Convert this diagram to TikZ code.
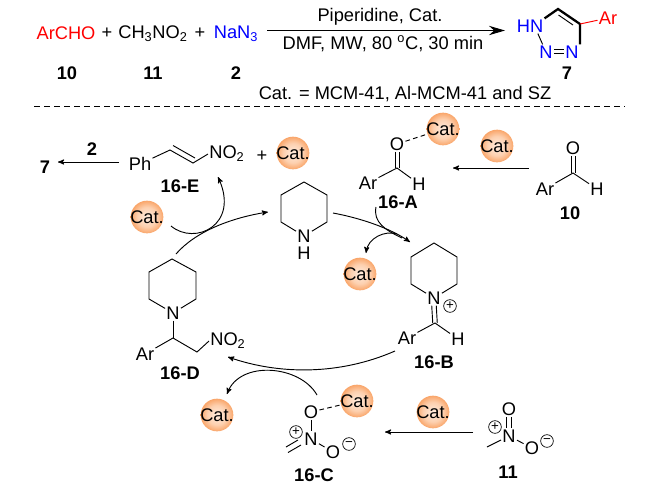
\documentclass[tikz,border=0pt]{standalone}
\usepackage{fontspec}
\setmainfont{Liberation Sans}
\usetikzlibrary{arrows,arrows.meta,shapes}
\newcommand{\catname}{\makebox[0pt]{Cat.}}
\definecolor{catcore}{RGB}{255,236,222}
\definecolor{catsoft}{RGB}{253,208,175}
\definecolor{catmid}{RGB}{249,162,100}
\definecolor{catedge}{RGB}{241,120,45}
\pgfdeclareradialshading{catshade}{\pgfpoint{0bp}{0bp}}{%
    color(0bp)=(catcore); color(15bp)=(catsoft); color(26bp)=(catmid);
    color(35bp)=(catedge); color(50bp)=(catedge)}
\begin{document}
\begin{tikzpicture}[
    x=0.75pt, y=-0.75pt,
    % Define text styles
    every node/.style={font=\fontsize{13.7}{16}\selectfont, inner sep=0.8pt},
    redtext/.style={text=red},
    bluetext/.style={text=blue},
    compound/.style={font=\fontsize{13.7}{16}\selectfont\bfseries},
    catball/.style={
        circle,
        shading=catshade,
        minimum size=24.5pt,
        inner sep=0pt
    },
    charge/.style={
        circle,
        draw,
        line width=0.5pt,
        minimum size=9.5pt,
        inner sep=0pt,
        font=\fontsize{10}{10}\selectfont
    },
    bond/.style={line width=0.7pt},
    boldbond/.style={line width=1.7pt},
    catbond/.style={line width=0.7pt, dashed, dash pattern=on 3.5pt off 2.5pt},
    line/.style={-stealth', line width=0.7pt},
    mainline/.style={-{Stealth[length=12pt,width=7pt]}, line width=0.7pt}
]
\useasboundingbox (0,0) rectangle (650,487);

% Overall reaction
\node[redtext] (archo) at (66,33) {ArCHO};
\node (plusa) at (107,33) {+};
\node (nitro) at (153,34) {CH\textsubscript{3}NO\textsubscript{2}};
\node (plusb) at (200,33) {+};
\node[bluetext] (azide) at (236,34) {NaN\textsubscript{3}};
\node[compound] (lab10) at (67,73) {10};
\node[compound] (lab11) at (153,73) {11};
\node[compound] (lab2) at (236,73) {2};
\coordinate (mains) at (267,30.5);
\coordinate (maine) at (505,30.5);
\draw[mainline] (mains) -- (maine);
\node (reagent) at (380,17) {Piperidine, Cat.};
\node (cond) at (383,44) {DMF, MW, 80 \textsuperscript{o}C, 30 min};
\node (catlist) at (405,94) {Cat. = MCM-41, Al-MCM-41 and SZ};
\coordinate (sepl) at (34,106);
\coordinate (sepr) at (625,106);
\draw[line width=0.6pt, dash pattern=on 4.5pt off 3pt] (sepl) -- (sepr);

% Triazole 7
\node[bluetext] (thn) at (530,26) {HN};
\node[bluetext] (tna) at (546,52) {N};
\node[bluetext] (tnb) at (572,52) {N};
\node[redtext] (tar) at (608,18) {Ar};
\coordinate (ttop) at (558,9);
\coordinate (tright) at (580,24);
\coordinate (tinnera) at (558.5,15);
\coordinate (tinnerb) at (573,25);
\node[compound] (lab7) at (567,73) {7};
\draw[boldbond] (thn.north east) -- (ttop) -- (tright) -- (tnb.north east);
\draw[bond] (tinnera) -- (tinnerb);
\draw[bond] ([xshift=-5pt]thn.south east) -- (tna);
\draw[bond] ([yshift=1.8pt]tna.east) -- ([yshift=1.8pt]tnb.west);
\draw[bond] ([yshift=-1.2pt]tna.east) -- ([yshift=-1.2pt]tnb.west);
\draw[bond, red] (tright) -- (tar);

% Product side 16-E
\node[compound] (seven) at (45,167) {7};
\node[compound] (lab2b) at (92,149) {2};
\coordinate (toseven) at (58,162);
\coordinate (fromph) at (119,162);
\draw[line] (fromph) -- (toseven);
\node (ph) at (140,164) {Ph};
\coordinate (evl) at (170,150);
\coordinate (evr) at (193,163);
\coordinate (evla) at (173,145.5);
\coordinate (evra) at (195,158);
\node[anchor=west] (eno) at (208,154) {NO\textsubscript{2}};
\draw[bond] (ph) -- (evl) -- (evr) -- (eno.west);
\draw[bond] (evla) -- (evra);
\node (plusc) at (262,156) {+};
\node[catball] (cate) at (293,153) {\catname};
\node[compound] (labe) at (180,186) {16-E};

% Intermediate 16-A
\node (ao) at (397,144) {O};
\coordinate (ac) at (397,168);
\node (aar) at (368,183) {Ar};
\node (ah) at (419,184) {H};
\node[compound] (laba) at (398,202) {16-A};
\draw[bond] (aar) -- (ac) -- (ah);
\draw[bond] ([xshift=-1.5pt]ao.south) -- ([xshift=-1.5pt]ac);
\draw[bond] ([xshift=1.5pt]ao.south) -- ([xshift=1.5pt]ac);
\node[catball] (cata) at (443,129) {\catname};
\draw[catbond] (ao) -- (cata);

% Aldehyde 10
\node (ald) at (573,148) {O};
\coordinate (alc) at (573,173);
\node (alar) at (545,189) {Ar};
\node (alh) at (597,189) {H};
\node[compound] (lab10b) at (570,213) {10};
\draw[bond] (alar) -- (alc) -- (alh);
\draw[bond] ([xshift=-1.5pt]ald.south) -- ([xshift=-1.5pt]alc);
\draw[bond] ([xshift=1.5pt]ald.south) -- ([xshift=1.5pt]alc);
\node[catball] (catb) at (497,146) {\catname};
\coordinate (froma) at (529,168);
\coordinate (toa) at (453,168);
\draw[line] (froma) -- (toa);

% Piperidine
\node (pn) at (304,236) {N};
\node (ph2) at (304,253) {H};
\coordinate (ptop) at (304,182);
\coordinate (pul) at (281,195);
\coordinate (pll) at (281,222);
\coordinate (pur) at (327,195);
\coordinate (plr) at (327,222);
\draw[bond] (pn) -- (pll) -- (pul) -- (ptop) -- (pur) -- (plr) -- (pn);

% Iminium 16-B
\node (bn) at (434,298) {N};
\coordinate (btop) at (434,243);
\coordinate (bul) at (411,257);
\coordinate (bll) at (411,284);
\coordinate (bur) at (457,257);
\coordinate (blr) at (457,284);
\coordinate (bc) at (435,323);
\node[charge] (bplus) at (450,306) {+};
\node (bar) at (407,338) {Ar};
\node (bh) at (458,339) {H};
\node[compound] (labb) at (434,362) {16-B};
\draw[bond] (bn) -- (bll) -- (bul) -- (btop) -- (bur) -- (blr) -- (bn);
\draw[bond] ([xshift=-1.7pt]bn.south) -- ([xshift=-1.7pt]bc);
\draw[bond] ([xshift=1.7pt]bn.south) -- ([xshift=1.7pt]bc);
\draw[bond] (bar) -- (bc) -- (bh);
\node[catball] (catc) at (360,274) {\catname};

% Adduct 16-D
\node (dn) at (173,313) {N};
\coordinate (dtop) at (172,259);
\coordinate (dul) at (149,272);
\coordinate (dll) at (149,299);
\coordinate (dur) at (196,272);
\coordinate (dlr) at (196,299);
\coordinate (dch) at (173,338);
\coordinate (dcht) at (197,352);
\node (dar) at (145,354) {Ar};
\node[anchor=west] (dno) at (209,341) {NO\textsubscript{2}};
\node[compound] (labd) at (180,373) {16-D};
\draw[bond] (dn) -- (dll) -- (dul) -- (dtop) -- (dur) -- (dlr) -- (dn);
\draw[bond] (dn) -- (dch);
\draw[bond] (dar) -- (dch) -- (dcht) -- (dno.west);
\node[catball] (catd) at (147,217) {\catname};
\node[catball] (catf) at (217,415) {\catname};

% Nitronate 16-C
\node (co) at (311,412) {O};
\node (cn) at (311,439) {N};
\node (com) at (333,452) {O};
\node[charge] (cplus) at (296,432) {+};
\node[charge] (cminus) at (349,444) {\textminus};
\coordinate (cma) at (301,445);
\coordinate (cmb) at (288,452.5);
\coordinate (cmc) at (298,440);
\coordinate (cmd) at (286,447);
\node[compound] (labc) at (314,475) {16-C};
\draw[bond] (co) -- (cn);
\draw[bond] (cn) -- (com);
\draw[bond] (cma) -- (cmb);
\draw[bond] (cmc) -- (cmd);
\node[catball] (catg) at (357,401) {\catname};
\draw[catbond] (co) -- (catg);

% Nitromethane 11
\node (no) at (509,409) {O};
\node (nn) at (509,436) {N};
\node (nom) at (532,448) {O};
\node[charge] (nplus) at (495,427) {+};
\node[charge] (nminus) at (547,441) {\textminus};
\coordinate (nme) at (487,447);
\node[compound] (lab11b) at (508,472) {11};
\draw[bond] ([xshift=-1.7pt]no.south) -- ([xshift=-1.7pt]nn.north);
\draw[bond] ([xshift=1.7pt]no.south) -- ([xshift=1.7pt]nn.north);
\draw[bond] (nn) -- (nom);
\draw[bond] (nn) -- (nme);
\node[catball] (cath) at (433,412) {\catname};
\coordinate (fromn) at (473,432);
\coordinate (ton) at (385,432);
\draw[line] (fromn) -- (ton);

% Catalytic cycle
\coordinate (cs) at (171,226);
\coordinate (ct) at (218,177);
\draw[line] (cs) .. controls (195,246) and (240,225) .. (ct);
\coordinate (ds) at (176,254);
\coordinate (dt) at (268,212);
\draw[line] (ds) .. controls (195,232) and (230,218) .. (dt);
\coordinate (ps) at (333,213);
\coordinate (pt) at (410,242);
\draw[line] (ps) .. controls (360,218) and (390,228) .. (pt);
\coordinate (as) at (376,207);
\coordinate (am) at (402,238);
\draw[bond] (as) .. controls (373,222) and (385,230) .. (am);
\coordinate (aa) at (397,234);
\coordinate (at) at (366,253);
\draw[line] (aa) .. controls (385,230) and (368,238) .. (at);
\coordinate (bs) at (395,351);
\coordinate (bt) at (228,357);
\draw[line] (bs) .. controls (340,375) and (280,375) .. (bt);
\coordinate (css) at (317,395);
\coordinate (cst) at (227,394);
\draw[line] (css) .. controls (300,365) and (240,360) .. (cst);

\end{tikzpicture}
\end{document}
